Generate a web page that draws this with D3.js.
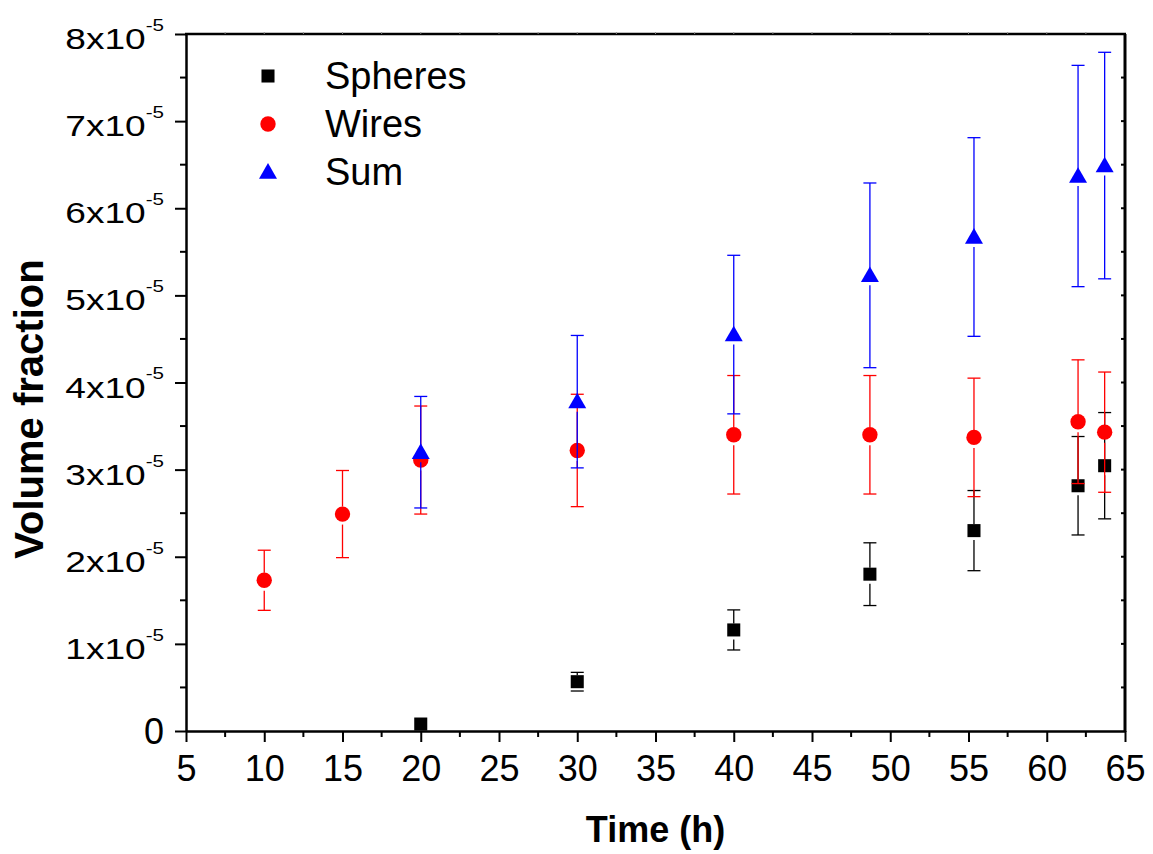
<!DOCTYPE html>
<html>
<head>
<meta charset="utf-8">
<script src="https://cdn.jsdelivr.net/npm/d3@7"></script>
<style>
  body { margin: 0; background: #fff; }
  svg { display: block; font-family: Arial, "Liberation Sans", sans-serif; }
</style>
</head>
<body>
<svg id="chart"></svg>
<script>
// values are in units of 1x10^-5
const sphereTimes = [20, 30, 40, 48.7, 55.35, 62, 63.7];
const sphereValues = [0.08, 0.566, 1.16, 1.80, 2.30, 2.815, 3.045];
const sphereErrors = [0, 0.107, 0.23, 0.36, 0.46, 0.565, 0.61];

const wireTimes = [10, 15, 20, 30, 40, 48.7, 55.35, 62, 63.7];
const wireValues = [1.73, 2.49, 3.11, 3.22, 3.40, 3.40, 3.37, 3.55, 3.43];
const wireErrors = [0.345, 0.5, 0.62, 0.645, 0.68, 0.68, 0.68, 0.71, 0.69];

const sumTimes = [20, 30, 40, 48.7, 55.35, 62, 63.7];
const sumValues = [3.20, 3.78, 4.55, 5.23, 5.67, 6.37, 6.49];
const sumErrors = [0.64, 0.76, 0.91, 1.06, 1.14, 1.27, 1.30];

const xTicks = [5, 10, 15, 20, 25, 30, 35, 40, 45, 50, 55, 60, 65];
const yTicks = [0, 1, 2, 3, 4, 5, 6, 7, 8];
const legendNames = ["Spheres", "Wires", "Sum"];

const width = 1153, height = 854;
const margin = { top: 34, right: 28, bottom: 123, left: 186 };

const svg = d3.select("#chart")
    .attr("width", width)
    .attr("height", height);

const x = d3.scaleLinear()
    .domain([5, 65])
    .range([margin.left, width - margin.right]);

const y = d3.scaleLinear()
    .domain([0, 8])
    .range([height - margin.bottom, margin.top]);

const x0 = x.range()[0], x1 = x.range()[1];
const y0 = y.range()[0], y1 = y.range()[1];

// minor ticks halfway between the majors
const xMinor = d3.range(7.5, 65, 5);
const yMinor = d3.range(0.5, 8, 1);

// bottom axis
const bottom = svg.append("g")
    .attr("transform", `translate(0,${y0})`)
    .call(d3.axisBottom(x).tickValues(xTicks).tickSize(11).tickSizeOuter(0).tickPadding(13));
bottom.selectAll("text").style("font-size", "36px").attr("fill", "#000");
bottom.append("g").selectAll("line")
    .data(xMinor)
    .enter().append("line")
    .attr("x1", d => x(d)).attr("x2", d => x(d))
    .attr("y1", 0).attr("y2", 6)
    .attr("stroke", "#000").attr("stroke-width", 2);

// left axis, ticks only (labels drawn below with superscripts)
const left = svg.append("g")
    .attr("transform", `translate(${x0},0)`)
    .call(d3.axisLeft(y).tickValues(yTicks).tickSize(11).tickSizeOuter(0).tickFormat(""));
left.append("g").selectAll("line")
    .data(yMinor)
    .enter().append("line")
    .attr("x1", 0).attr("x2", -6)
    .attr("y1", d => y(d)).attr("y2", d => y(d))
    .attr("stroke", "#000").attr("stroke-width", 2);

svg.selectAll(".domain").attr("stroke-width", 2.5);
bottom.selectAll(".tick line").attr("stroke-width", 2);
left.selectAll(".tick line").attr("stroke-width", 2);

// top and right frame
svg.append("line")
    .attr("x1", x0 - 1).attr("x2", x1 + 1)
    .attr("y1", y1).attr("y2", y1)
    .attr("stroke", "#000").attr("stroke-width", 2.5);
svg.append("line")
    .attr("x1", x1).attr("x2", x1)
    .attr("y1", y1).attr("y2", y0 + 1)
    .attr("stroke", "#000").attr("stroke-width", 3);

svg.append("g").selectAll("line")
    .data(xMinor.concat(xTicks.slice(1, -1)))
    .enter().append("line")
    .attr("x1", d => x(d)).attr("x2", d => x(d))
    .attr("y1", y1).attr("y2", y1 - 2)
    .attr("stroke", "#888").attr("stroke-width", 1);
svg.append("g").selectAll("line")
    .data(yMinor.concat(yTicks.slice(1, -1)))
    .enter().append("line")
    .attr("x1", x1).attr("x2", x1 - 4)
    .attr("y1", d => y(d)).attr("y2", d => y(d))
    .attr("stroke", "#000").attr("stroke-width", 2);

// y tick labels
const yLabels = svg.append("g");
yTicks.forEach(v => {
    if (v === 0) {
        yLabels.append("text")
            .attr("x", 164).attr("y", y(v) + 13)
            .attr("text-anchor", "end")
            .style("font-size", "36px")
            .text("0");
    } else {
        const t = yLabels.append("text")
            .attr("transform", `translate(164,${y(v) + 15}) scale(1.03,0.82)`)
            .attr("text-anchor", "end")
            .style("font-size", "36px");
        t.append("tspan").text(v + "x10");
        t.append("tspan").attr("dy", -22).style("font-size", "20px").text("-5");
    }
});

// axis titles
svg.append("text")
    .attr("x", (x0 + x1) / 2)
    .attr("y", 842)
    .attr("text-anchor", "middle")
    .style("font-size", "36px")
    .style("font-weight", "bold")
    .text("Time (h)");

svg.append("text")
    .attr("transform", `translate(43,409) rotate(-90)`)
    .attr("text-anchor", "middle")
    .style("font-size", "40px")
    .style("font-weight", "bold")
    .text("Volume fraction");

// symbols
const square = d3.symbol().type(d3.symbolSquare).size(170);
const circle = d3.symbol().type(d3.symbolCircle).size(185);
const triangle = d3.symbol().type(d3.symbolTriangle).size(140);

const series = [
    { name: legendNames[0], t: sphereTimes, v: sphereValues, e: sphereErrors, color: "#000000", sym: square, r: 6.5, dy: 0 },
    { name: legendNames[1], t: wireTimes, v: wireValues, e: wireErrors, color: "#ff0000", sym: circle, r: 7.5, dy: 0 },
    { name: legendNames[2], t: sumTimes, v: sumValues, e: sumErrors, color: "#0000ff", sym: triangle, r: 7, dy: 1.5 }
];

const capW = 6.5;

series.forEach(s => {
    const g = svg.append("g");
    const pts = s.t.map((t, i) => ({ t: t, v: s.v[i], e: s.e[i] })).filter(d => d.e > 0);

    // upper error segment
    g.selectAll(".up")
        .data(pts)
        .enter().append("line")
        .attr("x1", d => x(d.t)).attr("x2", d => x(d.t))
        .attr("y1", d => y(d.v + d.e)).attr("y2", d => Math.max(y(d.v + d.e), y(d.v) - s.r))
        .attr("stroke", s.color).attr("stroke-width", 1.3);
    // lower error segment
    g.selectAll(".down")
        .data(pts)
        .enter().append("line")
        .attr("x1", d => x(d.t)).attr("x2", d => x(d.t))
        .attr("y1", d => Math.min(y(d.v - d.e), y(d.v) + s.r + 3)).attr("y2", d => y(d.v - d.e))
        .attr("stroke", s.color).attr("stroke-width", 1.3);
    // caps
    g.selectAll(".cap")
        .data(pts.flatMap(d => [{ t: d.t, c: d.v + d.e }, { t: d.t, c: d.v - d.e }]))
        .enter().append("line")
        .attr("x1", d => x(d.t) - capW).attr("x2", d => x(d.t) + capW)
        .attr("y1", d => y(d.c)).attr("y2", d => y(d.c))
        .attr("stroke", s.color).attr("stroke-width", 1.3);

    g.selectAll(".pt")
        .data(s.t.map((t, i) => ({ t: t, v: s.v[i] })))
        .enter().append("path")
        .attr("d", s.sym)
        .attr("transform", d => `translate(${x(d.t)},${y(d.v) + s.dy})`)
        .attr("fill", s.color);
});

// legend
const legend = svg.append("g");
series.forEach((s, i) => {
    const ly = 76 + i * 48;
    legend.append("path")
        .attr("d", s.sym)
        .attr("transform", `translate(268,${ly + s.dy})`)
        .attr("fill", s.color);
    legend.append("text")
        .attr("x", 325)
        .attr("y", ly + 13)
        .style("font-size", "38px")
        .text(s.name);
});
</script>
</body>
</html>
